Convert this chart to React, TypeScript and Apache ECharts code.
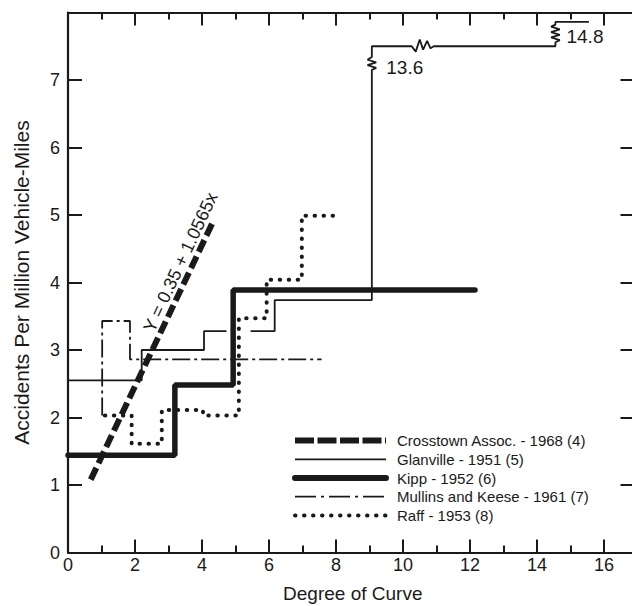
import React, { useEffect, useRef } from "react";
import * as echarts from "echarts";

// ---- data ----
const xTickValues = [0, 2, 4, 6, 8, 10, 12, 14, 16];
const yTickValues = [0, 1, 2, 3, 4, 5, 6, 7];

const crosstown: number[][] = [
  [0.68, 1.08],
  [4.31, 4.88],
];
const glanvilleLow: number[][] = [
  [0, 2.55], [2.2, 2.55], [2.2, 3.0], [4.06, 3.0], [4.06, 3.28], [4.73, 3.28],
];
const glanvilleHigh: number[][] = [
  [5.45, 3.28], [6.17, 3.28], [6.17, 3.74], [9.07, 3.74], [9.07, 7.15],
  [9.2, 7.18], [8.94, 7.22], [9.2, 7.26], [8.94, 7.3], [9.07, 7.34], [9.07, 7.5],
  [10.26, 7.5], [10.38, 7.42], [10.5, 7.6], [10.6, 7.45], [10.72, 7.58], [10.82, 7.47], [10.92, 7.5],
  [14.55, 7.5], [14.55, 7.56], [14.68, 7.59], [14.42, 7.63], [14.68, 7.67], [14.42, 7.71],
  [14.68, 7.75], [14.42, 7.79], [14.55, 7.82], [14.55, 7.86], [15.55, 7.86],
];
const kipp: number[][] = [
  [0, 1.44], [3.19, 1.44], [3.19, 2.48], [4.93, 2.48], [4.93, 3.89], [12.15, 3.89],
];
const mullinsKeese: number[][] = [
  [1.02, 2.03], [1.02, 3.43], [1.85, 3.43], [1.85, 2.86], [7.57, 2.86],
];
const raff: number[][] = [
  [1.1, 2.03], [1.9, 2.03], [1.9, 1.61], [2.8, 1.61], [2.8, 2.11], [4.03, 2.11],
  [4.03, 2.03], [5.1, 2.03], [5.1, 3.47], [5.93, 3.47], [5.93, 4.04], [6.98, 4.04],
  [6.98, 4.99], [8.08, 4.99],
];
const breakLabels: (number | string)[][] = [
  [9.5, 7.19, "13.6"],
  [14.88, 7.64, "14.8"],
];
const equationLabel: (number | string)[][] = [[3.36, 4.3, "Y = 0.35 + 1.0565x"]];

const legendNames = [
  "Crosstown Assoc. - 1968 (4)",
  "Glanville - 1951 (5)",
  "Kipp - 1952 (6)",
  "Mullins and Keese - 1961 (7)",
  "Raff - 1953 (8)",
];

const FONT = '"Liberation Sans", Arial, sans-serif';
const INK = "#1a1a1a";

const crosstownStyle = { color: INK, width: 6, type: [13, 5] as number[], cap: "butt" as const };
const glanvilleStyle = { color: INK, width: 1.8, type: "solid" as const };
const kippStyle = { color: INK, width: 5.5, type: "solid" as const, cap: "round" as const };
const mullinsStyle = { color: INK, width: 1.8, type: [18, 4, 3, 4] as number[] };
const raffStyle = { color: INK, width: 4, type: [0.5, 8.5] as number[], cap: "round" as const };

function lineSeries(name: string, data: number[][], lineStyle: any, z = 2) {
  return {
    name,
    type: "line",
    data,
    symbol: "none",
    showSymbol: false,
    lineStyle,
    z,
    silent: true,
    clip: false,
  };
}

export default function App() {
  const ref = useRef<HTMLDivElement>(null);

  useEffect(() => {
    if (!ref.current) return;
    const chart = echarts.init(ref.current, undefined, { renderer: "svg" });

    const xBase = {
      type: "value",
      min: 0,
      max: 17,
      splitLine: { show: false },
    };
    const yBase = {
      type: "value",
      min: 0,
      max: 8,
      interval: 1,
      splitLine: { show: false },
    };

    const rowGap = 18.7;
    const legendLines = [
      { lineWidth: 6, lineDash: [19, 3.5], lineCap: "butt" },
      { lineWidth: 1.8 },
      { lineWidth: 6, lineCap: "round" },
      { lineWidth: 1.8, lineDash: [21, 5, 3, 5] },
      { lineWidth: 4, lineDash: [0.5, 8.5], lineCap: "round" },
    ];
    const legendChildren: any[] = [];
    legendNames.forEach((name, i) => {
      legendChildren.push({
        type: "line",
        shape: { x1: 0, y1: i * rowGap, x2: 91, y2: i * rowGap },
        style: { stroke: INK, fill: null, ...legendLines[i] },
      });
      legendChildren.push({
        type: "text",
        x: 102,
        y: i * rowGap,
        style: {
          text: name,
          font: `15px ${FONT}`,
          fill: INK,
          verticalAlign: "middle",
          align: "left",
        },
      });
    });

    const labelText = {
      color: INK,
      fontFamily: FONT,
      textBorderWidth: 0,
      opacity: 1,
    };

    chart.setOption({
      animation: false,
      backgroundColor: "#ffffff",
      grid: {
        left: 68,
        top: 12.5,
        width: 569.5,
        height: 540,
        containLabel: false,
        outerBoundsMode: "none",
      },
      xAxis: [
        {
          ...xBase,
          position: "bottom",
          interval: 2,
          axisLine: { show: true, onZero: false, lineStyle: { color: INK, width: 2.2 } },
          axisTick: { show: true, inside: true, length: 13, lineStyle: { color: INK, width: 2 } },
          axisLabel: {
            show: true,
            margin: 3,
            fontSize: 18,
            color: INK,
            fontFamily: FONT,
            hideOverlap: false,
            formatter: (v: number) => (xTickValues.includes(v) ? String(v) : ""),
          },
          name: "Degree of Curve",
          nameLocation: "middle",
          nameGap: 31,
          nameTextStyle: { fontSize: 19, color: INK, fontFamily: FONT },
        },
        {
          ...xBase,
          position: "bottom",
          interval: 1,
          axisLine: { show: false, onZero: false },
          axisTick: { show: true, inside: true, length: 7, lineStyle: { color: INK, width: 2 } },
          axisLabel: { show: false },
        },
        {
          ...xBase,
          position: "top",
          interval: 2,
          axisLine: { show: true, onZero: false, lineStyle: { color: INK, width: 2.2 } },
          axisTick: { show: true, inside: true, length: 13, lineStyle: { color: INK, width: 2 } },
          axisLabel: { show: false },
        },
        {
          ...xBase,
          position: "top",
          interval: 1,
          axisLine: { show: false, onZero: false },
          axisTick: { show: true, inside: true, length: 7, lineStyle: { color: INK, width: 2 } },
          axisLabel: { show: false },
        },
      ],
      yAxis: [
        {
          ...yBase,
          position: "left",
          axisLine: { show: true, onZero: false, lineStyle: { color: INK, width: 2.2 } },
          axisTick: { show: true, inside: true, length: 14, lineStyle: { color: INK, width: 2 } },
          axisLabel: {
            show: true,
            margin: 8,
            fontSize: 18,
            color: INK,
            fontFamily: FONT,
            formatter: (v: number) => (yTickValues.includes(v) ? String(v) : ""),
          },
          name: "Accidents Per Million Vehicle-Miles",
          nameLocation: "middle",
          nameGap: 36,
          nameTextStyle: { fontSize: 21, color: INK, fontFamily: FONT },
        },
        {
          ...yBase,
          position: "right",
          axisLine: { show: true, onZero: false, lineStyle: { color: INK, width: 2.2 } },
          axisTick: { show: true, inside: true, length: 17, lineStyle: { color: INK, width: 2 } },
          axisLabel: { show: false },
        },
      ],
      series: [
        lineSeries("Glanville - 1951", glanvilleLow, glanvilleStyle, 2),
        lineSeries("Glanville - 1951 (cont.)", glanvilleHigh, glanvilleStyle, 2),
        lineSeries("Mullins and Keese - 1961", mullinsKeese, mullinsStyle, 3),
        lineSeries("Raff - 1953", raff, raffStyle, 4),
        lineSeries("Kipp - 1952", kipp, kippStyle, 5),
        lineSeries("Crosstown Assoc. - 1968", crosstown, crosstownStyle, 6),
        {
          name: "break labels",
          type: "scatter",
          data: breakLabels,
          symbolSize: 0,
          silent: true,
          z: 7,
          itemStyle: { color: INK, opacity: 1 },
          label: {
            show: true,
            position: "right",
            distance: 0,
            formatter: (p: any) => p.value[2],
            fontSize: 19,
            ...labelText,
          },
        },
        {
          name: "equation",
          type: "scatter",
          data: equationLabel,
          symbolSize: 0,
          silent: true,
          z: 7,
          itemStyle: { color: INK, opacity: 1 },
          label: {
            show: true,
            position: "inside",
            rotate: 65,
            formatter: (p: any) => p.value[2],
            fontSize: 18,
            ...labelText,
          },
        },
      ],
      graphic: [
        {
          type: "group",
          x: 295,
          y: 440.6,
          children: legendChildren,
        },
      ],
    });

    return () => chart.dispose();
  }, []);

  return (
    <div
      ref={ref}
      style={{ position: "fixed", left: 0, top: 0, width: 632, height: 606, background: "#fff" }}
    />
  );
}
